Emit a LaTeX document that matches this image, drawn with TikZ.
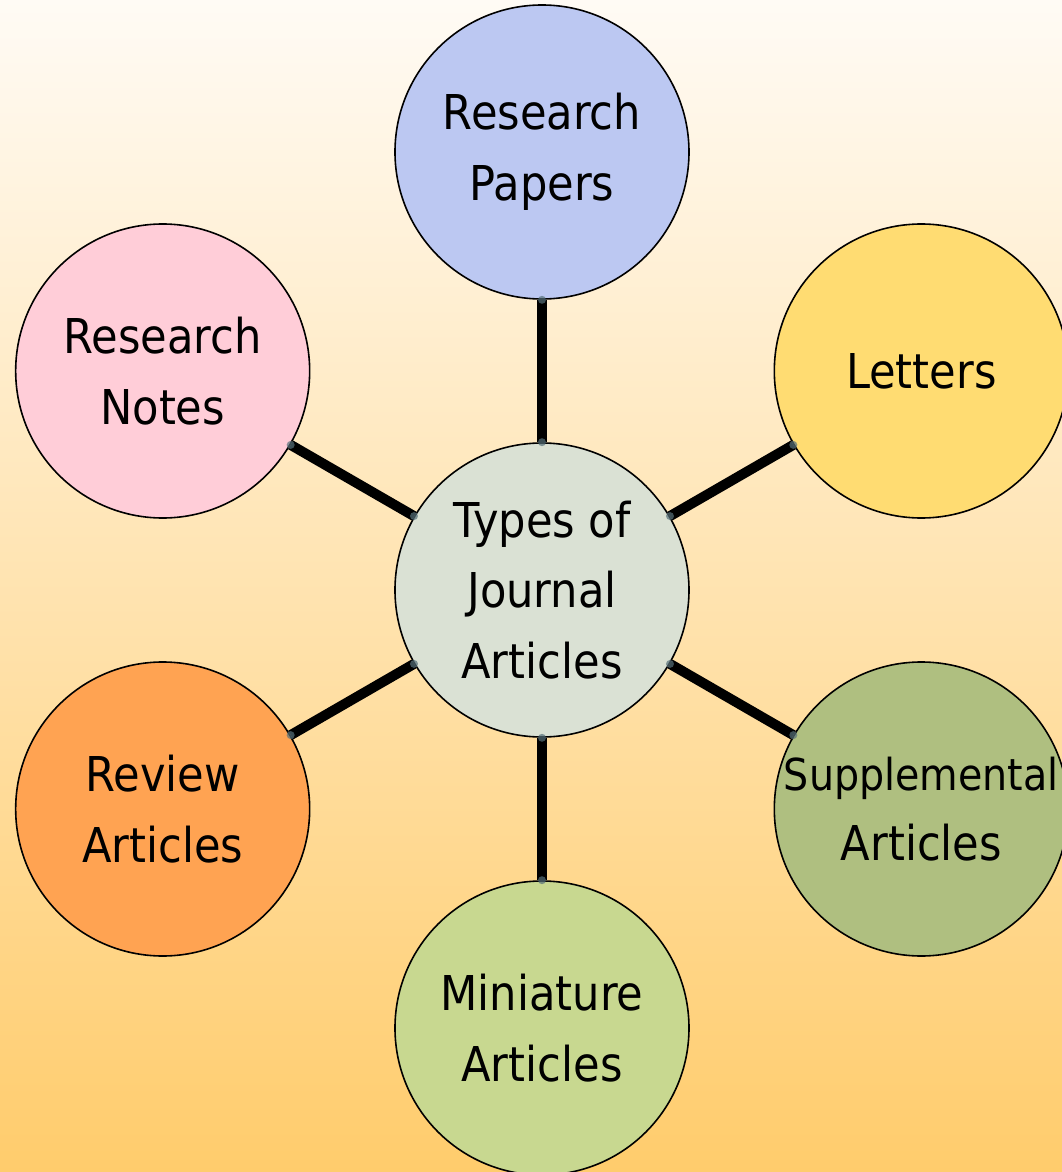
\documentclass[tikz,border=0pt]{standalone}
\usepackage{fontspec}
\setmainfont{DejaVu Sans}[FakeStretch=0.9]

\definecolor{bgtop}{HTML}{FFFBF5}
\definecolor{bgbot}{HTML}{FFCC6C}
\definecolor{hubfill}{HTML}{DAE1D4}
\definecolor{paperfill}{HTML}{BCC8F2}
\definecolor{letterfill}{HTML}{FFDC72}
\definecolor{supplfill}{HTML}{AFBF80}
\definecolor{minifill}{HTML}{C8D890}
\definecolor{reviewfill}{HTML}{FFA352}
\definecolor{notefill}{HTML}{FFCDD8}
\definecolor{dotcol}{HTML}{56707A}

\begin{document}
\begin{tikzpicture}[x=0.75pt, y=0.75pt]
 \tikzset{bubble/.style={circle, draw=black, line width=1.2pt, minimum size=220.5pt,
          inner sep=0pt, align=center, font=\fontsize{36}{53}\selectfont},
          link/.style={line width=7.5pt},
          joint/.style={fill=dotcol, fill opacity=0.7}}

 %background
 \shade[top color=bgtop, bottom color=bgbot] (-542,-582) rectangle (520,590);
 \useasboundingbox (-542,-582) rectangle (520,590);

 %hub
 \node[bubble, fill=hubfill] (hub) at (0,0) {Types of\\Journal\\Articles};

 %ring
 \def\dd{438}
 \foreach \a/\name/\col/\txt in { 90/papers/paperfill/{Research\\Papers},
                                  30/letters/letterfill/{Letters},
                                 -30/suppl/supplfill/{{\fontsize{33}{53}\selectfont Supplemental}\\Articles},
                                 -90/mini/minifill/{Miniature\\Articles},
                                 210/review/reviewfill/{Review\\Articles},
                                 150/notes/notefill/{Research\\Notes}} {
         \pgfmathtruncatemacro\b{mod(\a+180,360)}
         \node[bubble, fill=\col] (\name) at (\a:\dd) {\txt};
         \draw[link] (\name.\b) -- (hub.\a);
         \fill[joint] (\name.\b) circle (4);
         \fill[joint] (hub.\a) circle (4);
 }

\end{tikzpicture}
\end{document}
